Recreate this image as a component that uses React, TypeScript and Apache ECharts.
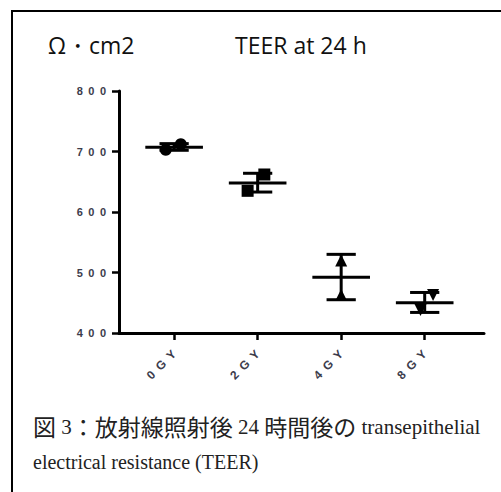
import React, { useEffect, useRef } from "react";
import * as echarts from "echarts";

const categories = ["0 G Y", "2 G Y", "4 G Y", "8 G Y"];
const means = [707, 648, 492, 450];
const errLow = [702, 633, 455, 434];
const errHigh = [713, 664, 530, 467];
// individual replicate values (x jitter within category, value)
const jitter0 = [-0.1, 0.08];
const values0 = [703, 712];
const jitter2 = [-0.12, 0.08];
const values2 = [635, 662];
const jitter4 = [0, 0];
const values4 = [463, 520];
const jitter8 = [-0.05, 0.1];
const values8 = [438, 463];
const yTicks = [400, 500, 600, 700, 800];

const unitLabel = "Ω・cm2";
const titleText = "TEER at 24 h";
const captionLine1 = "{j|図}{l| 3}{j|：放射線照射後}{l| 24 }{j|時間後の}{l| transepithelial}";
const captionLine2 = "electrical resistance (TEER)";

const SP = "\u2002";
function spaced(s: string) {
  return s.split(" ").join("").split("").join(SP);
}

export default function App() {
  const ref = useRef<HTMLDivElement>(null);
  useEffect(() => {
    document.body.style.margin = "0";
    const chart = echarts.init(ref.current!, undefined, { renderer: "svg" });
    const mk = (idx: number, jit: number[], vals: number[]) =>
      vals.map((v, k) => [idx + jit[k], v]);
    const scatterBase = {
      type: "scatter",
      symbolSize: 12,
      itemStyle: { color: "#000", opacity: 1 },
      z: 3,
    };
    chart.setOption({
      animation: false,
      grid: { left: 119, right: 17, top: 91, bottom: 159 },
      xAxis: {
        type: "value",
        min: -0.66,
        max: 3.71,
        splitLine: { show: false },
        axisLine: { show: true, onZero: false, lineStyle: { color: "#000", width: 3 } },
        axisTick: {
          show: true,
          customValues: [0, 1, 2, 3],
          length: 7,
          lineStyle: { color: "#000", width: 2.5 },
        },
        axisLabel: {
          customValues: [0, 1, 2, 3],
          formatter: (v: number) => spaced(categories[Math.round(v)] ?? ""),
          rotate: 45,
          margin: 19,
          fontFamily: "Liberation Sans",
          fontWeight: "bold",
          fontSize: 12,
          color: "#3c3c4c",
        },
      },
      yAxis: {
        type: "value",
        min: 400,
        max: 800,
        interval: 100,
        splitLine: { show: false },
        axisLine: { show: true, onZero: false, lineStyle: { color: "#000", width: 3 } },
        axisTick: { show: true, length: 7, lineStyle: { color: "#000", width: 2.5 } },
        axisLabel: {
          formatter: (v: number) => (yTicks.includes(v) ? spaced(String(v)) : ""),
          margin: 13,
          fontFamily: "Liberation Sans",
          fontWeight: "bold",
          fontSize: 11,
          color: "#3c3c4c",
        },
      },
      series: [
        {
          type: "custom",
          data: means.map((m, i) => [i, m, errLow[i], errHigh[i]]),
          renderItem: (params: any, api: any) => {
            const x = api.value(0);
            const m = api.coord([x, api.value(1)]);
            const lo = api.coord([x, api.value(2)]);
            const hi = api.coord([x, api.value(3)]);
            const meanHalf = api.size([0.69, 0])[0] / 2;
            const capHalf = api.size([0.35, 0])[0] / 2;
            const st = { stroke: "#000", lineWidth: 3 };
            return {
              type: "group",
              children: [
                { type: "line", shape: { x1: m[0] - meanHalf, y1: m[1], x2: m[0] + meanHalf, y2: m[1] }, style: st },
                { type: "line", shape: { x1: lo[0], y1: lo[1], x2: hi[0], y2: hi[1] }, style: st },
                { type: "line", shape: { x1: lo[0] - capHalf, y1: lo[1], x2: lo[0] + capHalf, y2: lo[1] }, style: st },
                { type: "line", shape: { x1: hi[0] - capHalf, y1: hi[1], x2: hi[0] + capHalf, y2: hi[1] }, style: st },
              ],
            };
          },
          z: 2,
        },
        { ...scatterBase, symbol: "circle", data: mk(0, jitter0, values0) },
        { ...scatterBase, symbol: "rect", data: mk(1, jitter2, values2) },
        { ...scatterBase, symbol: "triangle", data: mk(2, jitter4, values4) },
        { ...scatterBase, symbol: "triangle", symbolRotate: 180, data: mk(3, jitter8, values8) },
      ],
      graphic: [
        {
          type: "rect",
          shape: { x: 12, y: 11, width: 520, height: 520 },
          style: { fill: "none", stroke: "#000", lineWidth: 2 },
          silent: true,
        },
        {
          type: "text",
          x: 48,
          y: 33,
          style: { text: unitLabel, font: "23px 'Open Sans'", fill: "#111" },
        },
        {
          type: "text",
          x: 235,
          y: 33,
          style: { text: titleText, font: "23px 'Open Sans'", fill: "#111" },
        },
        {
          type: "text",
          x: 33,
          y: 410,
          style: {
            text: captionLine1,
            fill: "#222",
            rich: {
              j: { fontFamily: "Noto Sans CJK JP", fontSize: 23, fill: "#222", verticalAlign: "bottom", lineHeight: 27 },
              l: { fontFamily: "Liberation Serif", fontSize: 21, fill: "#222", verticalAlign: "bottom", lineHeight: 27 },
            },
          },
        },
        {
          type: "text",
          x: 33,
          y: 452,
          style: {
            text: captionLine2,
            font: "20px 'Liberation Serif'",
            fill: "#222",
          },
        },
      ],
    });
    return () => chart.dispose();
  }, []);
  return <div ref={ref} style={{ width: 501, height: 492 }} />;
}
